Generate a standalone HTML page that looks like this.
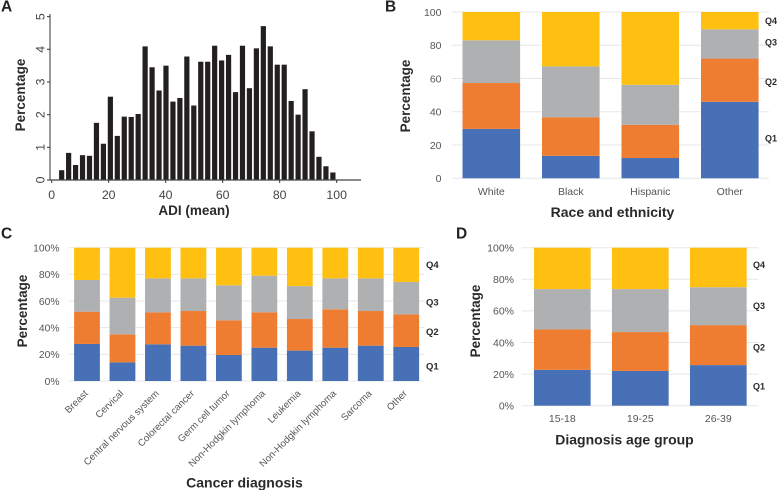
<!DOCTYPE html>
<html>
<head>
<meta charset="utf-8">
<title>Figure panels</title>
<style>
html,body{margin:0;padding:0;background:#fff;width:778px;height:490px;overflow:hidden}
svg{display:block;font-family:"Liberation Sans",sans-serif;filter:blur(0.3px)}
</style>
</head>
<body>
<svg id="fig" width="778" height="490" viewBox="0 0 778 490" xmlns="http://www.w3.org/2000/svg"></svg>
<script>
// Panel A
const adiValues = [0.3,0.83,0.46,0.76,0.74,1.75,1.11,2.55,1.35,1.94,1.93,2.02,4.09,3.45,2.74,3.5,2.4,2.51,3.78,2.28,3.62,3.62,4.11,3.66,3.83,2.69,4.11,2.81,4.03,4.71,4.09,3.53,3.53,2.42,2.0,2.78,1.49,0.71,0.42,0.23];
const adiFirstBin = 3.5;
const adiBinStep = 2.44;
const adiXTicks = [0,20,40,60,80,100];
const adiYTicks = [0,1,2,3,4,5];

// Panel B
const raceCategories = ['White','Black','Hispanic','Other'];
const raceQ1 = [29.7,13.5,12.2,46];
const raceQ2 = [27.6,23.2,20,26];
const raceQ3 = [25.7,30.6,24,17.6];
const raceQ4 = [17,32.7,43.8,10.4];
const raceTicks = [0,20,40,60,80,100];

// Panel C
const cancerCategories = ['Breast','Cervical','Central nervous system','Colorectal cancer','Germ cell tumor','Non-Hodgkin lymphoma','Leukemia','Non-Hodgkin lymphoma','Sarcoma','Other'];
const cancerQ1 = [27.8,14,27.5,26.5,19.5,25,22.8,25,26.5,25.5];
const cancerQ2 = [24.2,21,24,26,26,26.5,23.7,28.8,26,24.5];
const cancerQ3 = [23.8,27.5,25.5,24.5,26.3,27.5,24.7,23.2,24.5,24.3];
const cancerQ4 = [24.2,37.5,23,23,28.2,21,28.8,23,23,25.7];
const percentTicks = [0,20,40,60,80,100];

// Panel D
const ageCategories = ['15-18','19-25','26-39'];
const ageQ1 = [22.7,22,25.7];
const ageQ2 = [25.6,24.6,25.3];
const ageQ3 = [25.5,27.2,24];
const ageQ4 = [26.2,26.2,25];

const quartileNames = ['Q1','Q2','Q3','Q4'];
const quartileColors = ['#4870b6','#ee7d31','#aeb0b2','#ffc012'];

const svg = document.getElementById('fig');
const NS = 'http://www.w3.org/2000/svg';

function shape(tag, attrs, name) {
  const el = document.createElementNS(NS, tag);
  for (const k in attrs) el.setAttribute(k, attrs[k]);
  
  
  svg.appendChild(el);
  return el;
}
function label(str, x, y, size, opts, name) {
  const o = opts || {};
  const attrs = {x: x, y: y, 'font-size': size, fill: o.fill || '#555', 'text-anchor': o.anchor || 'middle'};
  if (o.bold) attrs['font-weight'] = 'bold';
  if (o.rotate !== undefined) attrs.transform = 'rotate(' + o.rotate + ' ' + x + ' ' + y + ')';
  const el = shape('text', attrs, name);
  el.textContent = str;
  return el;
}

function drawStacked(cfg) {
  const y = v => cfg.y0 + (cfg.y100 - cfg.y0) * v / 100;
  cfg.ticks.forEach(t => {
    shape('line', {x1: cfg.gridLeft, x2: cfg.gridRight, y1: y(t), y2: y(t), stroke: '#e7e7e7', 'stroke-width': 1}, cfg.key + '-gridline-' + t);
    label(t + cfg.suffix, cfg.tickX, y(t) + 3.8, cfg.tickSize, {anchor: 'end'}, cfg.key + '-y-tick-' + t);
  });
  cfg.categories.forEach((c, i) => {
    const cx = cfg.firstCenter + i * cfg.step;
    let acc = 0;
    cfg.series.forEach((s, q) => {
      const top = y(acc + s[i]);
      const bottom = y(acc);
      shape('rect', {x: cx - cfg.barWidth / 2, y: top, width: cfg.barWidth, height: bottom - top, fill: quartileColors[q]}, cfg.key + '-bar-' + i + '-' + quartileNames[q].toLowerCase());
      acc += s[i];
    });
    if (cfg.rotateLabels) {
      label(c, cx + 1.5, cfg.y0 + 13, 9.7, {anchor: 'end', rotate: -45}, cfg.key + '-x-label-' + i);
    } else {
      label(c, cx, cfg.xLabelY, cfg.tickSize, {}, cfg.key + '-x-label-' + i);
    }
  });
  cfg.quartileY.forEach((qy, i) => {
    label(quartileNames[i], cfg.quartileX, qy, cfg.quartileSize, {anchor: 'start', bold: true, fill: '#2a2a2a'}, cfg.key + '-label-' + quartileNames[i].toLowerCase());
  });
}

// ---- Panel A ----
const ax = v => 51.7 + v * 2.85;
const ay = v => 180 - v * 32.67;
adiValues.forEach((v, i) => {
  const cx = ax(adiFirstBin + i * adiBinStep);
  const bar = shape('rect', {x: cx - 2.6, y: ay(v), width: 5.2, height: 180 - ay(v), fill: '#231f20'}, 'adi-bar');
  bar.setAttribute('data-bin', i);
});
shape('line', {x1: 50, x2: 50, y1: 14, y2: 180.5, stroke: '#333', 'stroke-width': 1}, 'adi-y-axis');
shape('line', {x1: 50, x2: 361, y1: 180, y2: 180, stroke: '#444', 'stroke-width': 1.2}, 'adi-x-axis');
adiXTicks.forEach(t => {
  shape('line', {x1: ax(t), x2: ax(t), y1: 180, y2: 183, stroke: '#333', 'stroke-width': 1}, 'adi-x-tickmark-' + t);
  label(String(t), ax(t), 199, 12.3, {fill: '#444'}, 'adi-x-tick-' + t);
});
adiYTicks.forEach(t => {
  shape('line', {x1: 47, x2: 50, y1: ay(t), y2: ay(t), stroke: '#333', 'stroke-width': 1}, 'adi-y-tickmark-' + t);
  label(String(t), 44.5, ay(t), 12.3, {fill: '#444', rotate: -90}, 'adi-y-tick-' + t);
});
label('ADI (mean)', 194, 215, 13.5, {bold: true, fill: '#2a2a2a'}, 'adi-x-title');
label('Percentage', 25, 95, 13.5, {bold: true, fill: '#2a2a2a', rotate: -90}, 'adi-y-title');
label('A', 1, 11.5, 15.5, {bold: true, fill: '#222', anchor: 'start'}, 'panel-a-letter');

// ---- Panel B ----
drawStacked({
  key: 'race', categories: raceCategories, series: [raceQ1, raceQ2, raceQ3, raceQ4],
  ticks: raceTicks, suffix: '', y0: 178.3, y100: 12, gridLeft: 451.7, gridRight: 769,
  firstCenter: 491.3, step: 79.5, barWidth: 57.6, tickX: 441.5, tickSize: 10.5, xLabelY: 195,
  quartileX: 765, quartileSize: 9, quartileY: [141.5, 85, 45.5, 24]
});
label('Race and ethnicity', 612.5, 217, 14, {bold: true, fill: '#2a2a2a'}, 'race-x-title');
label('Percentage', 410, 96, 13.5, {bold: true, fill: '#2a2a2a', rotate: -90}, 'race-y-title');
label('B', 385, 11.5, 15.5, {bold: true, fill: '#222', anchor: 'start'}, 'panel-b-letter');

// ---- Panel C ----
drawStacked({
  key: 'cancer', categories: cancerCategories, series: [cancerQ1, cancerQ2, cancerQ3, cancerQ4],
  ticks: percentTicks, suffix: '%', y0: 381, y100: 247.7, gridLeft: 69, gridRight: 424,
  firstCenter: 87, step: 35.47, barWidth: 25.8, tickX: 59.5, tickSize: 10.3, rotateLabels: true,
  quartileX: 426, quartileSize: 9.5, quartileY: [369.5, 335, 305.5, 268]
});
label('Cancer diagnosis', 244.5, 487.5, 14, {bold: true, fill: '#2a2a2a'}, 'cancer-x-title');
label('Percentage', 27, 311, 13.5, {bold: true, fill: '#2a2a2a', rotate: -90}, 'cancer-y-title');
label('C', 1, 238.3, 15.5, {bold: true, fill: '#222', anchor: 'start'}, 'panel-c-letter');

// ---- Panel D ----
drawStacked({
  key: 'age', categories: ageCategories, series: [ageQ1, ageQ2, ageQ3, ageQ4],
  ticks: percentTicks, suffix: '%', y0: 405.7, y100: 247.7, gridLeft: 521.7, gridRight: 758.3,
  firstCenter: 562.3, step: 78, barWidth: 56.7, tickX: 514, tickSize: 10.5, xLabelY: 422,
  quartileX: 753, quartileSize: 9, quartileY: [389.5, 350.5, 309, 268]
});
label('Diagnosis age group', 624.5, 444.5, 14, {bold: true, fill: '#2a2a2a'}, 'age-x-title');
label('Percentage', 480, 321, 13.5, {bold: true, fill: '#2a2a2a', rotate: -90}, 'age-y-title');
label('D', 456, 238.3, 15.5, {bold: true, fill: '#222', anchor: 'start'}, 'panel-d-letter');
</script>
</body>
</html>
